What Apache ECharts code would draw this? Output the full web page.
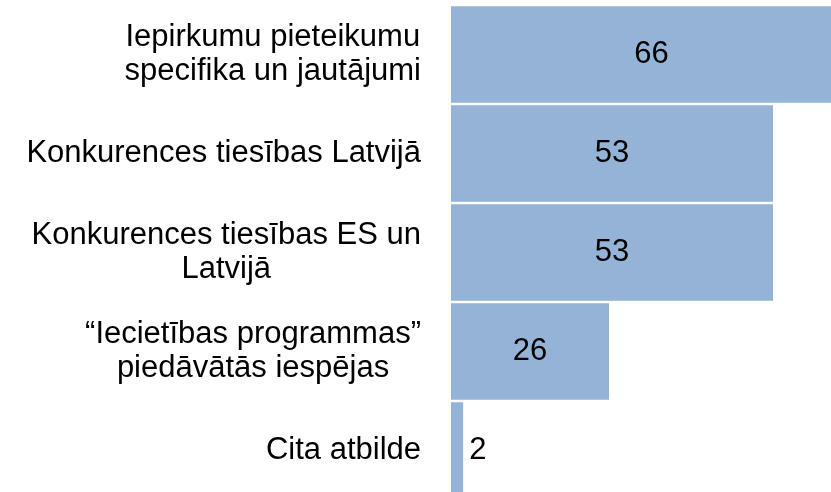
<!DOCTYPE html>
<html>
<head>
<meta charset="utf-8">
<script src="https://cdn.jsdelivr.net/npm/echarts@6/dist/echarts.min.js"></script>
<style>
  html, body { margin: 0; padding: 0; background: #fff; }
  #chart { width: 831px; height: 492px; }
</style>
</head>
<body>
<div id="chart"></div>
<script>
// Survey topics, top to bottom
const categories = [
  'Iepirkumu pieteikumu\nspecifika un jautājumi',
  'Konkurences tiesības Latvijā',
  'Konkurences tiesības ES un\nLatvijā',
  '“Iecietības programmas”\npiedāvātās iespējas',
  'Cita atbilde'
];
// Number of answers per topic
const counts = [66, 53, 53, 26, 2];

const FONT = '"Liberation Sans", Arial, sans-serif';

const chart = echarts.init(document.getElementById('chart'));

chart.setOption({
  animation: false,
  backgroundColor: '#ffffff',
  grid: {
    left: 451,
    top: 5,
    width: 401,
    height: 495,
    containLabel: false,
    outerBoundsMode: 'none'
  },
  xAxis: {
    type: 'value',
    min: 0,
    max: 66,
    show: false
  },
  yAxis: {
    type: 'category',
    data: categories,
    inverse: true,
    axisLine: { show: false },
    axisTick: { show: false },
    splitLine: { show: false },
    axisLabel: {
      margin: 30,
      align: 'right',
      formatter: function (v) {
        return v.split('\n').map(function (l) { return '{c|' + l + '}'; }).join('\n');
      },
      rich: {
        c: {
          align: 'center',
          fontFamily: FONT,
          fontSize: 31,
          lineHeight: 34,
          color: '#000000'
        }
      }
    }
  },
  series: [{
    type: 'bar',
    data: counts.map(function (v) {
      return v < 5
        ? { value: v, label: { position: 'right', distance: 6 } }
        : v;
    }),
    barCategoryGap: '2.5%',
    itemStyle: { color: '#95b3d7' },
    label: {
      show: true,
      position: 'inside',
      color: '#000000',
      fontFamily: FONT,
      fontSize: 31
    }
  }]
});
</script>
</body>
</html>
